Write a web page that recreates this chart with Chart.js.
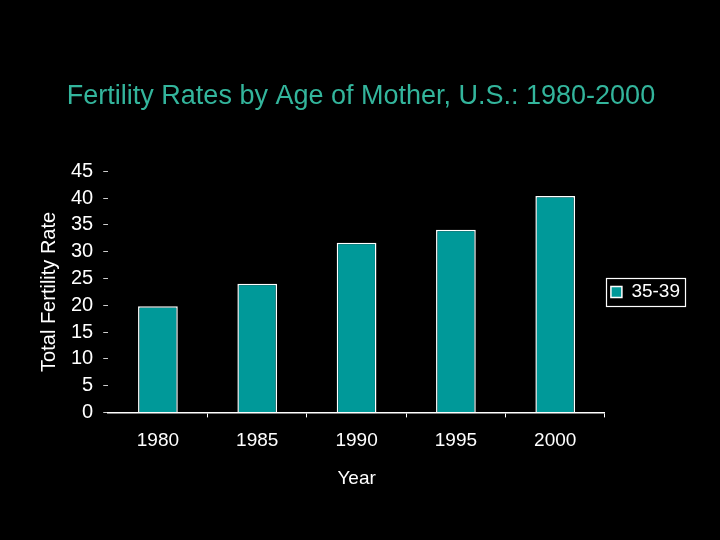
<!DOCTYPE html>
<html>
<head>
<meta charset="utf-8">
<script src="https://cdn.jsdelivr.net/npm/chart.js@4"></script>
<style>
  html, body { margin: 0; padding: 0; background: #000; }
  #wrap { width: 720px; height: 540px; }
</style>
</head>
<body>
<div id="wrap"><canvas id="fertilityChart" width="720" height="540"></canvas></div>
<script>
const years = ["1980", "1985", "1990", "1995", "2000"];
const rates3539 = [19.8, 24.0, 31.7, 34.1, 40.4];
const seriesName = "35-39";

const FONT = "'Liberation Sans', Arial, sans-serif";
const TEAL = "#009999";

// black page plus a white frame round the legend item
const framePlugin = {
  id: "frame",
  beforeDraw(chart) {
    const c = chart.ctx;
    c.save();
    c.fillStyle = "#000";
    c.fillRect(0, 0, chart.width, chart.height);
    c.restore();
  },
  afterDraw(chart) {
    const lg = chart.legend;
    if (!lg || !lg.legendHitBoxes || !lg.legendHitBoxes.length) return;
    const hb = lg.legendHitBoxes[0];
    const cy = hb.top + hb.height / 2;
    const c = chart.ctx;
    c.save();
    c.strokeStyle = "#fff";
    c.lineWidth = 1.2;
    c.strokeRect(Math.round(hb.left - 5) + 0.5, Math.round(cy - 14) + 0.5, Math.round(hb.width + 10), 28);
    c.restore();
  },
};

const ctx = document.getElementById("fertilityChart").getContext("2d");
new Chart(ctx, {
  type: "bar",
  data: {
    labels: years,
    datasets: [
      {
        label: seriesName,
        data: rates3539,
        backgroundColor: TEAL,
        borderColor: "#fff",
        borderWidth: 1.5,
        borderSkipped: "bottom",
        categoryPercentage: 1,
        barPercentage: 0.4,
      },
    ],
  },
  options: {
    responsive: false,
    animation: false,
    layout: { padding: { left: 32, right: 30, bottom: 46 } },
    plugins: {
      title: {
        display: true,
        text: "Fertility Rates by Age of Mother, U.S.: 1980-2000",
        color: "#33b59c",
        font: { family: FONT, size: 27, weight: "normal" },
        padding: { top: 80, bottom: 59 },
      },
      legend: {
        position: "right",
        fullSize: false,
        labels: {
          color: "#fff",
          font: { family: FONT, size: 19 },
          boxWidth: 11,
          boxHeight: 11,
          padding: 6,
        },
      },
      tooltip: { enabled: false },
    },
    scales: {
      x: {
        grid: {
          offset: true,
          drawOnChartArea: false,
          tickLength: 5,
          color: (c) => (c.index === 0 || c.index === years.length ? "rgba(0,0,0,0)" : "#fff"),
        },
        border: { display: true, color: "#fff", width: 1.5 },
        ticks: {
          color: "#fff",
          font: { family: FONT, size: 19 },
          padding: 12,
        },
        title: {
          display: true,
          text: "Year",
          color: "#fff",
          font: { family: FONT, size: 19 },
          padding: { top: 3 },
        },
      },
      y: {
        min: 0,
        max: 45,
        ticks: {
          stepSize: 5,
          autoSkip: false,
          color: "#fff",
          font: { family: FONT, size: 20 },
          padding: 10,
        },
        grid: {
          drawOnChartArea: false,
          tickLength: 5,
          color: "#ccc",
        },
        border: { display: false },
        title: {
          display: true,
          text: "Total Fertility Rate",
          color: "#fff",
          font: { family: FONT, size: 20 },
          padding: { top: 5, bottom: 0 },
        },
      },
    },
  },
  plugins: [framePlugin],
});
</script>
</body>
</html>
